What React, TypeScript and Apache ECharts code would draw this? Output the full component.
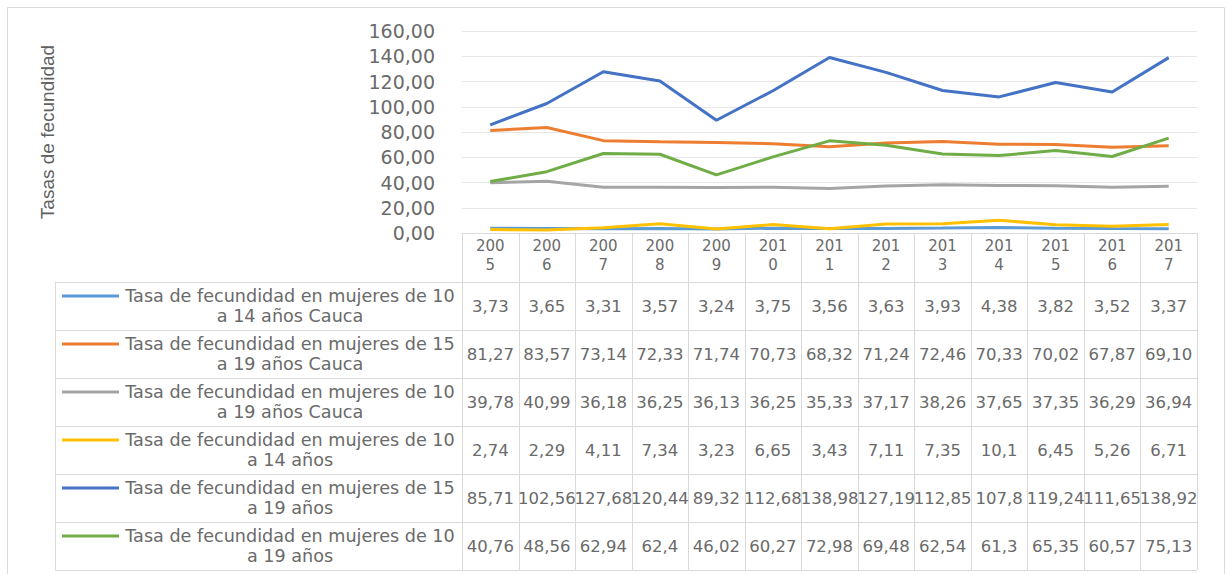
import React, { useEffect, useRef } from "react";
import * as echarts from "echarts";

const years = ["2005", "2006", "2007", "2008", "2009", "2010", "2011", "2012", "2013", "2014", "2015", "2016", "2017"];

const seriesNames = [
  "Tasa de fecundidad en mujeres de 10 a 14 años Cauca",
  "Tasa de fecundidad en mujeres de 15 a 19 años Cauca",
  "Tasa de fecundidad en mujeres de 10 a 19 años Cauca",
  "Tasa de fecundidad en mujeres de 10 a 14 años",
  "Tasa de fecundidad en mujeres de 15 a 19 años",
  "Tasa de fecundidad en mujeres de 10 a 19 años",
];

const seriesColors = ["#5B9BD5", "#ED7D31", "#A5A5A5", "#FFC000", "#4472C4", "#70AD47"];

const cauca10a14 = ["3,73", "3,65", "3,31", "3,57", "3,24", "3,75", "3,56", "3,63", "3,93", "4,38", "3,82", "3,52", "3,37"];
const cauca15a19 = ["81,27", "83,57", "73,14", "72,33", "71,74", "70,73", "68,32", "71,24", "72,46", "70,33", "70,02", "67,87", "69,10"];
const cauca10a19 = ["39,78", "40,99", "36,18", "36,25", "36,13", "36,25", "35,33", "37,17", "38,26", "37,65", "37,35", "36,29", "36,94"];
const nac10a14 = ["2,74", "2,29", "4,11", "7,34", "3,23", "6,65", "3,43", "7,11", "7,35", "10,1", "6,45", "5,26", "6,71"];
const nac15a19 = ["85,71", "102,56", "127,68", "120,44", "89,32", "112,68", "138,98", "127,19", "112,85", "107,8", "119,24", "111,65", "138,92"];
const nac10a19 = ["40,76", "48,56", "62,94", "62,4", "46,02", "60,27", "72,98", "69,48", "62,54", "61,3", "65,35", "60,57", "75,13"];

const tableRows = [cauca10a14, cauca15a19, cauca10a19, nac10a14, nac15a19, nac10a19];

const yTicks = { min: 0, max: 160, interval: 20 };

const toNum = (s: string) => parseFloat(s.replace(",", "."));

const GRID_LEFT = 462;
const GRID_RIGHT_EDGE = 1197;
const GRID_TOP = 31;
const GRID_BOTTOM_Y = 233;
const HEADER_H = 49;
const ROW_H = 48;
const LEGEND_LEFT = 55;
const TEXT_COLOR = "#6a6a6a";
const LINE_COLOR = "#d9d9d9";
const FONT = "DejaVu Sans";

export default function App() {
  const ref = useRef<HTMLDivElement>(null);

  useEffect(() => {
    if (!ref.current) return;
    const chart = echarts.init(ref.current, undefined, { renderer: "svg" });

    const option: any = {
      animation: false,
      backgroundColor: "#ffffff",
      grid: {
        left: GRID_LEFT,
        right: 1227 - GRID_RIGHT_EDGE,
        top: GRID_TOP,
        bottom: 574 - GRID_BOTTOM_Y,
        containLabel: false,
      },
      xAxis: {
        type: "category",
        data: years,
        boundaryGap: true,
        axisLine: { show: true, lineStyle: { color: LINE_COLOR, width: 1 } },
        axisTick: { show: false },
        axisLabel: {
          formatter: (v: string) => v.slice(0, 3) + "\n" + v.slice(3),
          color: TEXT_COLOR,
          fontFamily: FONT,
          fontSize: 15,
          lineHeight: 19,
          margin: 3,
          verticalAlign: "top",
        },
      },
      yAxis: {
        type: "value",
        min: yTicks.min,
        max: yTicks.max,
        interval: yTicks.interval,
        name: "Tasas de fecundidad",
        nameLocation: "middle",
        nameRotate: 90,
        nameGap: 405,
        nameTextStyle: {
          color: "#606060",
          fontFamily: "Liberation Sans Narrow, Liberation Sans, sans-serif",
          fontSize: 19,
        },
        axisLine: { show: false },
        axisTick: { show: false },
        splitLine: { show: true, lineStyle: { color: "#e6e6e6", width: 1 } },
        axisLabel: {
          formatter: (v: number) => v.toFixed(2).replace(".", ","),
          color: TEXT_COLOR,
          fontFamily: FONT,
          fontSize: 19,
          margin: 27,
        },
      },
      series: tableRows.map((row, i) => ({
        name: seriesNames[i],
        type: "line",
        data: row.map(toNum),
        showSymbol: false,
        symbol: "none",
        lineStyle: { color: seriesColors[i], width: 3 },
        itemStyle: { color: seriesColors[i] },
        z: 2 + i,
      })),
    };

    chart.setOption(option);

    const centers = years.map((_, i) => chart.convertToPixel({ xAxisIndex: 0 }, i) as number);
    const colW = (GRID_RIGHT_EDGE - GRID_LEFT) / years.length;
    const tableTop = GRID_BOTTOM_Y + HEADER_H;
    const tableBottom = tableTop + ROW_H * tableRows.length;

    const g: any[] = [];
    g.push({
      type: "rect",
      shape: { x: 7.5, y: 7.5, width: 1217, height: 570 },
      style: { fill: "none", stroke: LINE_COLOR, lineWidth: 1 },
      silent: true,
    });
    for (let i = 0; i <= years.length; i++) {
      const x = Math.round(GRID_LEFT + colW * i) + 0.5;
      g.push({
        type: "line",
        shape: { x1: x, y1: GRID_BOTTOM_Y, x2: x, y2: tableBottom },
        style: { stroke: LINE_COLOR, lineWidth: 1 },
        silent: true,
      });
    }
    g.push({
      type: "line",
      shape: { x1: LEGEND_LEFT + 0.5, y1: tableTop, x2: LEGEND_LEFT + 0.5, y2: tableBottom },
      style: { stroke: LINE_COLOR, lineWidth: 1 },
      silent: true,
    });
    for (let r = 0; r <= tableRows.length; r++) {
      const y = tableTop + ROW_H * r + 0.5;
      g.push({
        type: "line",
        shape: { x1: LEGEND_LEFT, y1: y, x2: GRID_RIGHT_EDGE, y2: y },
        style: { stroke: LINE_COLOR, lineWidth: 1 },
        silent: true,
      });
    }
    const textCenterX = 290;
    tableRows.forEach((row, r) => {
      const cy = tableTop + ROW_H * r + ROW_H / 2;
      const name = seriesNames[r];
      const cut = name.indexOf(" a ");
      const label = name.slice(0, cut) + "\n" + name.slice(cut + 1);
      g.push({
        type: "line",
        shape: { x1: 62, y1: cy - 10, x2: 119, y2: cy - 10 },
        style: { stroke: seriesColors[r], lineWidth: 3 },
        silent: true,
      });
      g.push({
        type: "text",
        x: textCenterX,
        y: cy,
        style: {
          text: label,
          fill: TEXT_COLOR,
          font: `17.6px ${FONT}`,
          align: "center",
          verticalAlign: "middle",
          lineHeight: 20,
        },
        silent: true,
      });
      row.forEach((val, c) => {
        g.push({
          type: "text",
          x: centers[c],
          y: cy,
          style: {
            text: val,
            fill: TEXT_COLOR,
            font: `16.5px ${FONT}`,
            align: "center",
            verticalAlign: "middle",
          },
          silent: true,
        });
      });
    });

    chart.setOption({ graphic: g });

    return () => chart.dispose();
  }, []);

  return (
    <div
      ref={ref}
      style={{ position: "fixed", left: 0, top: 0, width: 1227, height: 574 }}
    />
  );
}
